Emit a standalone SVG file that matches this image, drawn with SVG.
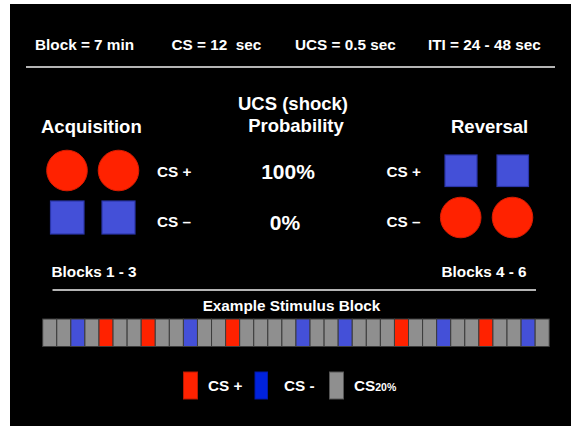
<svg xmlns="http://www.w3.org/2000/svg" width="571" height="426" viewBox="0 0 571 426">
<style>
text{font-family:"Liberation Sans",Arial,sans-serif;font-weight:bold;fill:#ffffff;white-space:pre}
.t15{font-size:15.3px}
.t18{font-size:18.5px}
.t21{font-size:21px}
.sep{stroke:#b4b4b4;stroke-width:2}
.red{fill:#ff2200;stroke:#d81c00;stroke-width:1}
.blue{fill:#4450d8;stroke:#2a35a8;stroke-width:1.2}
.g{fill:#8f8f8f;stroke:#3c3c3c;stroke-width:1}
.r{fill:#ff2200;stroke:#3c3c3c;stroke-width:1}
.b{fill:#4450d8;stroke:#3c3c3c;stroke-width:1}
</style>
<rect x="10" y="4" width="561" height="422" fill="#000000"/>
<g id="header">
<text class="t15" x="35" y="50">Block = 7 min</text>
<text class="t15" x="171.5" y="50">CS = 12  sec</text>
<text class="t15" x="295" y="50">UCS = 0.5 sec</text>
<text class="t15" x="428" y="50">ITI = 24 - 48 sec</text>
<line class="sep" x1="26" y1="67" x2="555" y2="67"/>
</g>
<g id="acquisition">
<text class="t18" x="41" y="133">Acquisition</text>
<circle class="red" cx="67" cy="170.5" r="20.3"/>
<circle class="red" cx="118.5" cy="170.5" r="20.3"/>
<rect class="blue" x="50.5" y="201" width="33.5" height="33"/>
<rect class="blue" x="102" y="201" width="33" height="33"/>
<text class="t15" x="157" y="176.5">CS +</text>
<text class="t15" x="157" y="226.5">CS –</text>
<text class="t15" x="51.5" y="277">Blocks 1 - 3</text>
</g>
<g id="probability">
<text class="t18" x="293" y="110" text-anchor="middle">UCS (shock)</text>
<text class="t18" x="296" y="132" text-anchor="middle">Probability</text>
<text class="t21" x="288" y="178.5" text-anchor="middle">100%</text>
<text class="t21" x="285" y="230" text-anchor="middle">0%</text>
</g>
<g id="reversal">
<text class="t18" x="451" y="133">Reversal</text>
<rect class="blue" x="445" y="155" width="32" height="31.5"/>
<rect class="blue" x="497" y="155" width="31.5" height="31.5"/>
<circle class="red" cx="460.7" cy="217.5" r="20.3"/>
<circle class="red" cx="512.5" cy="217.5" r="20.3"/>
<text class="t15" x="386.5" y="176.5">CS +</text>
<text class="t15" x="386.5" y="226.5">CS –</text>
<text class="t15" x="441.5" y="277">Blocks 4 - 6</text>
</g>
<g id="stimulus-block">
<line class="sep" x1="52.5" y1="290" x2="536" y2="290"/>
<text class="t15" x="291.5" y="311" text-anchor="middle">Example Stimulus Block</text>
<g id="bar">
<rect class="g" x="42.70" y="319" width="14.07" height="27.5"/>
<rect class="g" x="56.77" y="319" width="14.07" height="27.5"/>
<rect class="b" x="70.84" y="319" width="14.07" height="27.5"/>
<rect class="g" x="84.91" y="319" width="14.07" height="27.5"/>
<rect class="r" x="98.98" y="319" width="14.07" height="27.5"/>
<rect class="g" x="113.05" y="319" width="14.07" height="27.5"/>
<rect class="g" x="127.12" y="319" width="14.07" height="27.5"/>
<rect class="r" x="141.19" y="319" width="14.07" height="27.5"/>
<rect class="g" x="155.26" y="319" width="14.07" height="27.5"/>
<rect class="g" x="169.33" y="319" width="14.07" height="27.5"/>
<rect class="b" x="183.40" y="319" width="14.07" height="27.5"/>
<rect class="g" x="197.47" y="319" width="14.07" height="27.5"/>
<rect class="g" x="211.54" y="319" width="14.07" height="27.5"/>
<rect class="r" x="225.61" y="319" width="14.07" height="27.5"/>
<rect class="g" x="239.68" y="319" width="14.07" height="27.5"/>
<rect class="g" x="253.75" y="319" width="14.07" height="27.5"/>
<rect class="g" x="267.82" y="319" width="14.07" height="27.5"/>
<rect class="g" x="281.89" y="319" width="14.07" height="27.5"/>
<rect class="b" x="295.96" y="319" width="14.07" height="27.5"/>
<rect class="g" x="310.03" y="319" width="14.07" height="27.5"/>
<rect class="g" x="324.10" y="319" width="14.07" height="27.5"/>
<rect class="b" x="338.17" y="319" width="14.07" height="27.5"/>
<rect class="g" x="352.24" y="319" width="14.07" height="27.5"/>
<rect class="g" x="366.31" y="319" width="14.07" height="27.5"/>
<rect class="g" x="380.38" y="319" width="14.07" height="27.5"/>
<rect class="r" x="394.45" y="319" width="14.07" height="27.5"/>
<rect class="g" x="408.52" y="319" width="14.07" height="27.5"/>
<rect class="g" x="422.59" y="319" width="14.07" height="27.5"/>
<rect class="b" x="436.66" y="319" width="14.07" height="27.5"/>
<rect class="g" x="450.73" y="319" width="14.07" height="27.5"/>
<rect class="g" x="464.80" y="319" width="14.07" height="27.5"/>
<rect class="r" x="478.87" y="319" width="14.07" height="27.5"/>
<rect class="g" x="492.94" y="319" width="14.07" height="27.5"/>
<rect class="g" x="507.01" y="319" width="14.07" height="27.5"/>
<rect class="b" x="521.08" y="319" width="14.07" height="27.5"/>
<rect class="g" x="535.15" y="319" width="14.07" height="27.5"/>
</g>
</g>
<g id="legend">
<rect x="183.5" y="372" width="14" height="27" fill="#ff2200" stroke="#b81800" stroke-width="1"/>
<text class="t15" x="208" y="391">CS +</text>
<rect x="255" y="372" width="12.5" height="27" fill="#0022dd" stroke="#0018a8" stroke-width="1"/>
<text class="t15" x="284" y="391">CS -</text>
<rect x="329.5" y="372" width="14" height="27" fill="#8f8f8f" stroke="#555555" stroke-width="1"/>
<text class="t15" x="354" y="391">CS<tspan font-size="10.5px">20%</tspan></text>
</g>
</svg>
